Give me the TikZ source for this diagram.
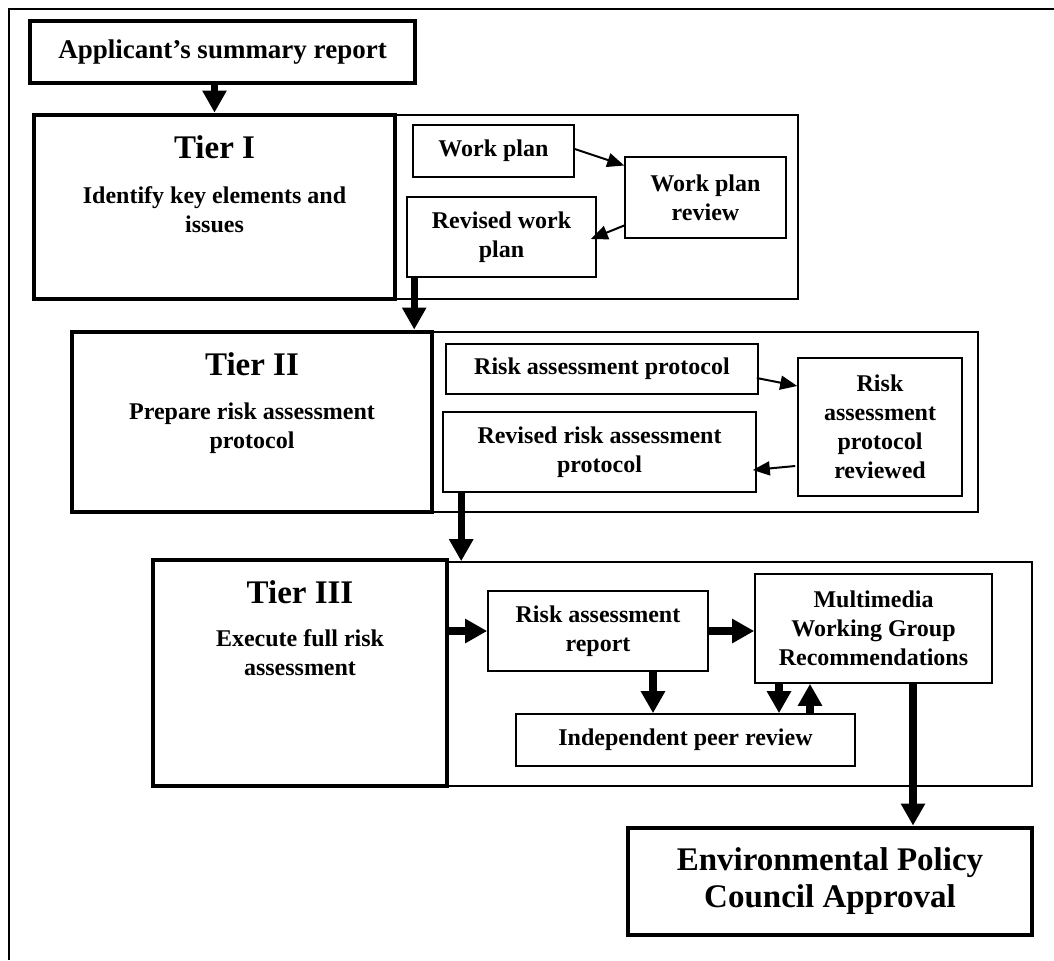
\documentclass[tikz,border=0pt]{standalone}
\usepackage{fontspec}
\setmainfont{Liberation Serif}
\usetikzlibrary{arrows.meta}

\tikzset{
  thinbox/.style={draw, line width=0.8pt, inner sep=0pt, align=center,
    font=\bfseries\fontsize{12}{14.5}\selectfont},
  thickbox/.style={draw, line width=2.4pt, inner sep=0pt, align=center},
  framebox/.style={draw, line width=0.8pt, inner sep=0pt},
  tierhead/.style={inner sep=0pt, anchor=base, font=\bfseries\fontsize{16.5}{20}\selectfont},
  tiersub/.style={inner sep=0pt, anchor=base, align=center,
    font=\bfseries\fontsize{12}{14.5}\selectfont},
  bigarrow/.style={line width=3.6pt, -{Triangle[length=11pt,width=11.5pt]}},
  smallarrow/.style={line width=1pt, -{Triangle[length=8.5pt,width=7pt]}}
}

\begin{document}
\begin{tikzpicture}[x=0.5pt, y=-0.5pt]
    \useasboundingbox (0,0) rectangle (1054,960);
    % page border
    \draw[line width=0.8pt] (9,960) -- (9,9) -- (1054,9);

    % applicant report
    \node[thickbox, minimum width=192.5pt, minimum height=31pt,
      font=\bfseries\fontsize{13.5}{16}\selectfont] (app) at (222.5,52) {Applicant’s summary report};

    % Tier I with its frame
    \node[framebox, minimum width=201pt, minimum height=92pt] (f1) at (597,207) {};
    \node[thickbox, minimum width=180.5pt, minimum height=92pt] (t1) at (214.5,207) {};
    \node[tierhead] (t1h) at ([yshift=-23pt]t1.north) {Tier I};
    \node[tiersub] (t1s) at ([yshift=-60pt]t1.north) {Identify key elements and\\issues};
    \node[thinbox, minimum width=80.5pt, minimum height=26pt] (wp) at (493.5,151) {Work plan};
    \node[thinbox, minimum width=80.5pt, minimum height=40.5pt] (wpr) at (705.5,197.5) {Work plan\\review};
    \node[thinbox, minimum width=94.5pt, minimum height=40pt] (rwp) at (501.5,237) {Revised work\\plan};

    % Tier II with its frame
    \node[framebox, minimum width=273pt, minimum height=90pt] (f2) at (705,422) {};
    \node[thickbox, minimum width=180pt, minimum height=90pt] (t2) at (252,422) {};
    \node[tierhead] (t2h) at ([yshift=-23pt]t2.north) {Tier II};
    \node[tiersub] (t2s) at ([yshift=-59.5pt]t2.north) {Prepare risk assessment\\protocol};
    \node[thinbox, minimum width=156pt, minimum height=25pt] (rap) at (602,369) {Risk assessment protocol};
    \node[thinbox, minimum width=156.5pt, minimum height=40pt] (rrap) at (599.5,452) {Revised risk assessment\\protocol};
    \node[thinbox, minimum width=82pt, minimum height=69pt] (rapr) at (880,427) {Risk\\assessment\\protocol\\reviewed};

    % Tier III with its frame
    \node[framebox, minimum width=292.5pt, minimum height=112pt] (f3) at (739.5,674) {};
    \node[thickbox, minimum width=147pt, minimum height=113pt] (t3) at (300,673) {};
    \node[tierhead] (t3h) at ([yshift=-23pt]t3.north) {Tier III};
    \node[tiersub] (t3s) at ([yshift=-59pt]t3.north) {Execute full risk\\assessment};
    \node[thinbox, minimum width=110pt, minimum height=40pt] (rar) at (598,631) {Risk assessment\\report};
    \node[thinbox, minimum width=118.5pt, minimum height=54.5pt] (mm) at (873.5,628.5) {Multimedia\\Working Group\\Recommendations};
    \node[thinbox, minimum width=169.5pt, minimum height=26pt] (ipr) at (685.5,740) {Independent peer review};

    % final approval
    \node[thickbox, minimum width=202pt, minimum height=53.5pt,
      font=\bfseries\fontsize{16.5}{18.5}\selectfont] (epc) at (830,881.5) {Environmental Policy\\Council Approval};

    % Draw the arrows
    \draw[bigarrow] (t1.north |- app.south) -- (t1.north);
    \draw[smallarrow] ([yshift=1pt]wp.east) -- ([yshift=16pt]wpr.west);
    \draw[smallarrow] ([yshift=-14pt]wpr.west) -- ([xshift=-3pt,yshift=-1pt]rwp.east);
    \draw[bigarrow] ([xshift=4pt]rwp.south west) -- ([xshift=4pt]rwp.south west |- t2.north);
    \draw[smallarrow] ([xshift=-1pt,yshift=-4.5pt]rap.east) -- ([yshift=20.5pt]rapr.west);
    \draw[smallarrow] ([xshift=-1pt,yshift=-19.5pt]rapr.west) -- ([xshift=-2pt,yshift=-9pt]rrap.east);
    \draw[bigarrow] ([xshift=9.5pt]rrap.south west) -- ([xshift=9.5pt]rrap.south west |- f3.north);
    \draw[bigarrow] (t3.east |- rar.west) -- (rar.west);
    \draw[bigarrow] (rar.east) -- (rar.east -| mm.west);
    \draw[bigarrow] ([xshift=27.5pt]rar.south) -- ([xshift=27.5pt]rar.south |- ipr.north);
    \draw[bigarrow] ([xshift=-47.25pt]mm.south) -- ([xshift=-47.25pt]mm.south |- ipr.north);
    \draw[bigarrow] ([xshift=-31.75pt]mm.south |- ipr.north) -- ([xshift=-31.75pt]mm.south);
    \draw[bigarrow] ([xshift=19.75pt]mm.south) -- ([xshift=19.75pt]mm.south |- epc.north);
\end{tikzpicture}
\end{document}
